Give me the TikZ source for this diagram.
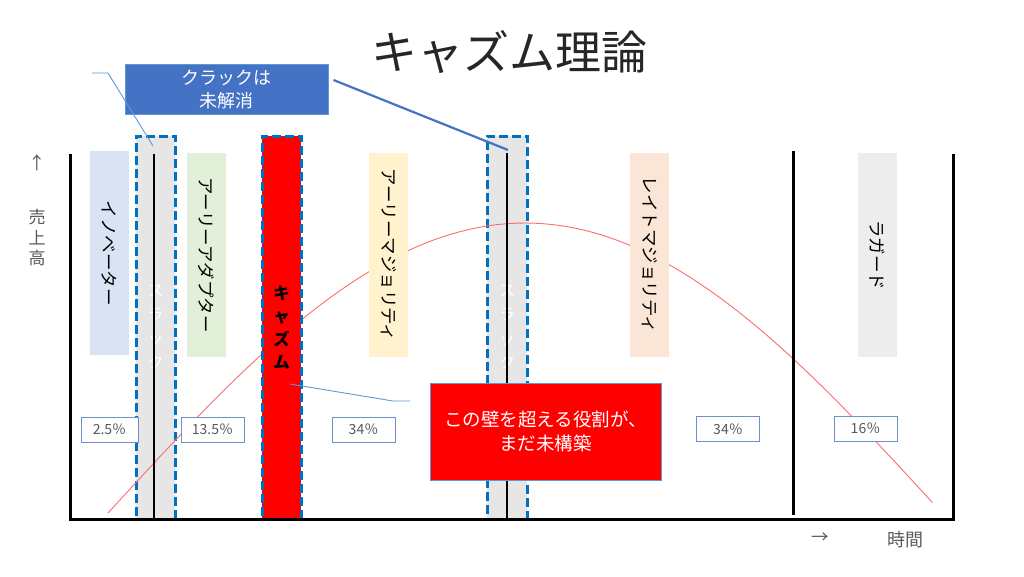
\documentclass[tikz,border=0pt]{standalone}
\usepackage{fontspec}
\newfontfamily\jpfont{Noto Sans CJK JP}
\definecolor{innov}{HTML}{DAE3F3}
\definecolor{adopt}{HTML}{E2F0D9}
\definecolor{emaj}{HTML}{FFF2CC}
\definecolor{lmaj}{HTML}{FBE5D6}
\definecolor{lagg}{HTML}{EDEDED}
\definecolor{slackgray}{HTML}{E6E6E6}
\definecolor{dashblue}{HTML}{0070C0}
\definecolor{calloutblue}{HTML}{4472C4}
\definecolor{leaderblue}{HTML}{5B9BD5}
\definecolor{pctline}{HTML}{7090CC}
\definecolor{pcttext}{HTML}{595959}
\definecolor{curvered}{HTML}{FF6B6B}
\begin{document}
\begin{tikzpicture}[
        x=1pt, y=-1pt,
        thick,
        font=\jpfont\fontsize{17.5}{20}\selectfont
    ]
    \tikzset{
        groupbox/.style = {rectangle, fill=#1, rotate=-90, inner sep=0pt, minimum width=204pt, minimum height=39pt},
        slackbar/.style = {rectangle, draw=dashblue, fill=slackgray, line width=3pt, dash pattern=on 9pt off 4pt, minimum width=39pt, minimum height=383pt, inner sep=0pt, align=center, text=white, font=\jpfont\fontsize{16}{24}\selectfont},
        chasmbar/.style = {slackbar, fill=red, text=black, font=\jpfont\bfseries\fontsize{16.5}{23}\selectfont},
        pctbox/.style = {rectangle, draw=pctline, line width=1pt, fill=white, text=pcttext, minimum width=63pt, minimum height=25pt, inner sep=0pt, font=\jpfont\fontsize{14}{16}\selectfont},
        callout/.style = {rectangle, fill=#1, draw=leaderblue, line width=1pt, text=white, align=center, inner sep=0pt, font=\jpfont\fontsize{18}{23}\selectfont},
        axisline/.style = {-, line width=3pt, black},
        slackline/.style = {-, line width=2.5pt, black},
        edgeb/.style = {-, line width=2.2pt, calloutblue},
        edgel/.style = {-, line width=0.9pt, leaderblue},
        sales/.style = {line width=0.9pt, curvered},
    }
    \useasboundingbox (0,0) rectangle (1024,576);
    \node[font=\jpfont\fontsize{46}{50}\selectfont, text=black!85] at (509,52) (title) {キャズム理論};
    %
    \node[slackbar] at (155.5,327.5) (s1) {ス\\ラ\\ッ\\ク};
    \node[slackbar, minimum width=40pt] at (507,327.5) (s2) {ス\\ラ\\ッ\\ク};
    \draw[sales] plot[variable=\t, domain=-1:0.978, samples=90] ({525+417*\t}, {223+290*(1-cos(90*\t))});
    %
    \node[groupbox=innov] at (109,253) (g1) {イノベーター};
    \node[groupbox=adopt] at (206.5,255) (g2) {アーリーアダプター};
    \node[groupbox=emaj] at (388.5,255) (g3) {アーリーマジョリティ};
    \node[groupbox=lmaj] at (649.5,255) (g4) {レイトマジョリティ};
    \node[groupbox=lagg] at (877.5,255) (g5) {ラガード};
    \node[chasmbar] at (281.5,327.5) (ch) {キ\\ャ\\ズ\\ム};
    %
    \node[pctbox, minimum width=57pt] at (109.5,429.5) (p1) {2.5％};
    \node[pctbox] at (212.5,429.5) (p2) {13.5％};
    \node[pctbox] at (363.5,429.5) (p3) {34％};
    \node[pctbox] at (728,429) (p4) {34％};
    \node[pctbox] at (865.5,428.5) (p5) {16％};
    %
    \coordinate (tl) at (70,154);
    \coordinate (bl) at (70,519);
    \coordinate (br) at (953,519);
    \coordinate (tr) at (953,154);
    \coordinate (dt) at (793,151);
    \coordinate (db) at (793,515);
    \draw[axisline] (tl) -- (bl) -- (br) -- (tr);
    \draw[axisline] (dt) -- (db);
    \draw[slackline] (154,154) coordinate (s1t) -- (154,519) coordinate (s1b);
    \draw[slackline] (507,153) coordinate (s2t) -- (507,519) coordinate (s2b);
    %
    \node[callout=calloutblue, minimum width=203pt, minimum height=50pt] at (226.5,89) (crack) {クラックは\\未解消};
    \node[callout=red, minimum width=231pt, minimum height=97pt, font=\jpfont\fontsize{18.5}{24}\selectfont] at (545.5,431.5) (wall) {この壁を超える役割が、\\まだ未構築};
    %
    \coordinate (k1) at (153,146);
    \coordinate (k2) at (108,73);
    \coordinate (k3) at (92,73);
    \coordinate (s2tip) at (508,150);
    \coordinate (c1) at (290,384);
    \coordinate (c2) at (393,401);
    \coordinate (c3) at (410,401);
    \draw[edgeb] ([xshift=5pt,yshift=9pt]crack.east) -- (s2tip);
    \draw[edgel] (k1) -- (k2) -- (k3);
    \draw[edgel] (c1) -- (c2) -- (c3);
    %
    \node[text=pcttext] at (37,163) (yarrow) {↑};
    \node[text=pcttext, align=center, font=\jpfont\fontsize{17}{20.5}\selectfont] at (37,238) (ylabel) {売\\上\\高};
    \node[text=pcttext] at (820,538) (xarrow) {→};
    \node[text=pcttext, font=\jpfont\fontsize{18}{20}\selectfont] at (905,540) (xlabel) {時間};
\end{tikzpicture}
\end{document}
